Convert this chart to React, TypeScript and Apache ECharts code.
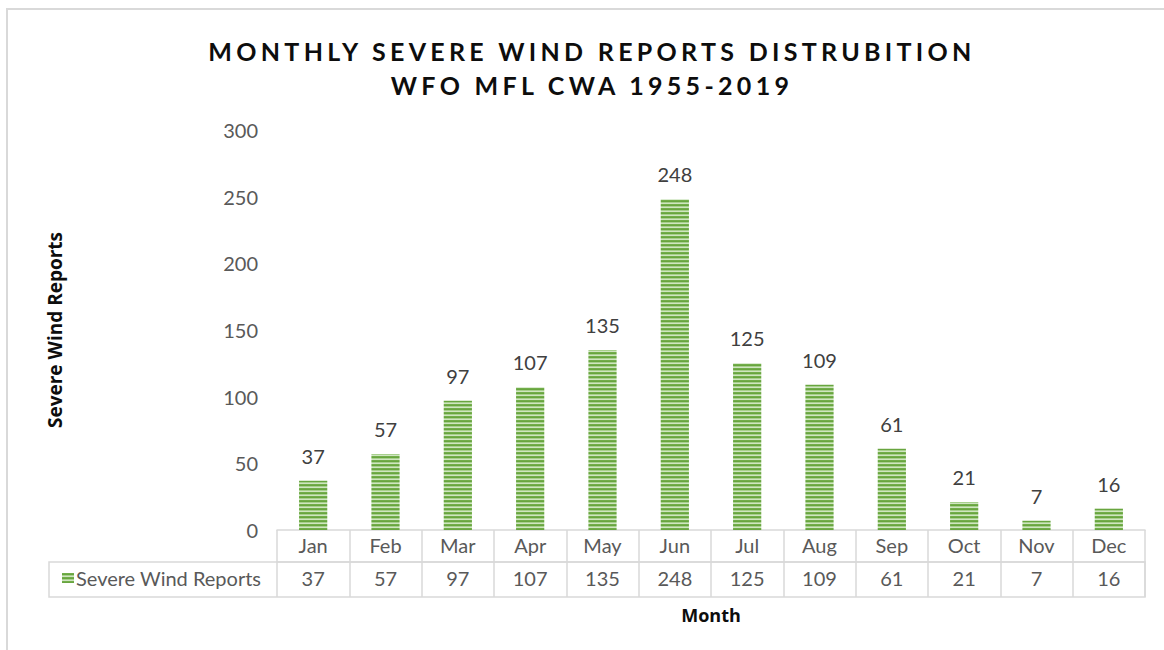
import React, { useEffect, useRef } from "react";
import * as echarts from "echarts";

const months = ["Jan", "Feb", "Mar", "Apr", "May", "Jun", "Jul", "Aug", "Sep", "Oct", "Nov", "Dec"];
const reports = [37, 57, 97, 107, 135, 248, 125, 109, 61, 21, 7, 16];
const seriesName = "Severe Wind Reports";
const titleLines = ["MONTHLY SEVERE WIND REPORTS DISTRUBITION", "WFO MFL CWA 1955-2019"];
const yTicks = { min: 0, max: 300, interval: 50 };

function makeStripes(): HTMLCanvasElement {
  const c = document.createElement("canvas");
  c.width = 4;
  c.height = 4;
  const ctx = c.getContext("2d")!;
  const rows = ["#72ad4a", "#68a53f", "#a8d08d", "#cfe5c1"];
  rows.forEach((col, i) => {
    ctx.fillStyle = col;
    ctx.fillRect(0, i, 4, 1);
  });
  return c;
}

export default function App() {
  const ref = useRef<HTMLDivElement>(null);
  useEffect(() => {
    if (!ref.current) return;
    const el = ref.current;
    const chart = echarts.init(el, null, { renderer: "svg" });
    const stripes = { image: makeStripes(), repeat: "repeat" } as any;
    const font = "Lato";
    const nameFont = "Open Sans";
    const grey = "#595959";
    const border = "#d9d9d9";
    const spaceTitle = () => {
      el.querySelectorAll("text").forEach((t) => {
        if (titleLines.includes((t.textContent || "").trim())) {
          t.setAttribute("letter-spacing", "4.3");
        }
      });
    };
    chart.on("finished", spaceTitle);
    chart.setOption({
      animation: false,
      backgroundColor: "#ffffff",
      title: {
        text: titleLines.join("\n"),
        left: 587,
        textAlign: "center",
        top: 29,
        textStyle: {
          fontFamily: font,
          fontWeight: "bold",
          fontSize: 25,
          lineHeight: 34,
          color: "#0d0d0d",
        },
      },
      grid: { left: 277, right: 19, top: 130, bottom: 120, containLabel: false },
      legend: {
        left: 57,
        top: 563,
        itemWidth: 12,
        itemHeight: 10,
        icon: "rect",
        textStyle: { fontFamily: font, fontSize: 20, color: grey, padding: [0, 0, 0, -3] },
        data: [seriesName],
      },
      xAxis: [
        {
          type: "category",
          data: months,
          axisLine: { show: true, lineStyle: { color: border, width: 1.5 } },
          axisTick: { show: true, length: 32, interval: 0, lineStyle: { color: border, width: 1.5 } },
          axisLabel: { fontFamily: font, fontSize: 20, color: grey, margin: 5, interval: 0 },
        },
        {
          type: "category",
          position: "bottom",
          offset: 32,
          data: reports.map((v) => String(v)),
          axisLine: { show: true, lineStyle: { color: border, width: 1.5 } },
          axisTick: { show: true, length: 35, interval: 0, lineStyle: { color: border, width: 1.5 } },
          axisLabel: { fontFamily: font, fontSize: 20, color: grey, margin: 6, interval: 0 },
          name: "Month",
          nameLocation: "middle",
          nameGap: 44,
          nameTextStyle: { fontFamily: nameFont, fontSize: 18, fontWeight: "bold", color: "#0d0d0d" },
        },
      ],
      yAxis: {
        type: "value",
        min: yTicks.min,
        max: yTicks.max,
        interval: yTicks.interval,
        splitLine: { show: false },
        axisLine: { show: false },
        axisTick: { show: false },
        axisLabel: { fontFamily: font, fontSize: 20, color: grey, margin: 19 },
        name: seriesName,
        nameLocation: "middle",
        nameRotate: 90,
        nameGap: 213,
        nameTextStyle: { fontFamily: nameFont, fontSize: 19, fontWeight: "bold", color: "#0d0d0d" },
      },
      series: [
        {
          name: seriesName,
          type: "bar",
          xAxisIndex: 0,
          data: reports,
          barWidth: "39%",
          itemStyle: { color: stripes },
          label: {
            show: true,
            position: "top",
            distance: 15,
            fontFamily: font,
            fontSize: 20,
            color: "#404040",
          },
        },
      ],
      graphic: [
        {
          type: "rect",
          shape: { x: 7, y: 9, width: 1200, height: 700 },
          style: { fill: "none", stroke: border, lineWidth: 2 },
          silent: true,
        },
        {
          type: "rect",
          shape: { x: 49, y: 562, width: 1096, height: 35 },
          style: { fill: "none", stroke: border, lineWidth: 1.5 },
          silent: true,
        },
      ],
    });
    spaceTitle();
    return () => chart.dispose();
  }, []);
  return (
    <div
      ref={ref}
      style={{ position: "fixed", left: 0, top: 0, width: 1164, height: 650, background: "#fff" }}
    />
  );
}
